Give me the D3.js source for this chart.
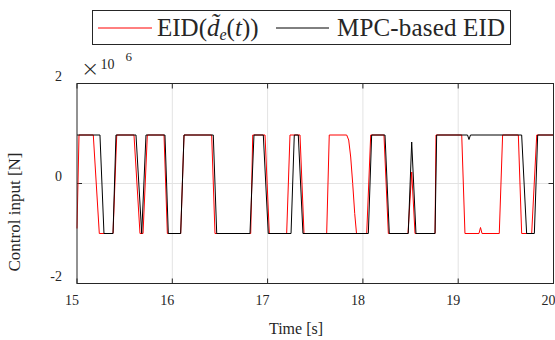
<!DOCTYPE html>
<html>
<head>
<meta charset="utf-8">
<script src="https://cdn.jsdelivr.net/npm/d3@7"></script>
<style>
  body { margin: 0; background: #fff; }
</style>
</head>
<body>
<script>
// time [s] and control input [x 10^6 N]
const eidTime = [15.000, 15.021, 15.171, 15.234, 15.378, 15.417, 15.598, 15.661, 15.693, 15.738,
                 15.913, 15.948, 16.088, 16.123, 16.413, 16.448, 16.823, 16.844, 16.973, 17.018,
                 17.200, 17.235, 17.340, 17.382, 17.620, 17.647, 17.830, 17.851, 17.872, 17.893,
                 17.914, 17.933, 18.040, 18.082, 18.221, 18.267, 18.473, 18.512, 18.547, 18.757,
                 18.767, 19.037, 19.071, 19.218, 19.234, 19.250, 19.431, 19.466, 19.631, 19.666,
                 19.771, 19.824, 20.000];
const eidInput = [-0.90, 0.97, 0.97, -1.00, -1.00, 0.97, 0.97, -1.00, -1.00, 0.97,
                  0.97, -1.00, -1.00, 0.97, 0.97, -1.00, -1.00, 0.97, 0.97, -1.00,
                  -1.00, 0.97, 0.97, -1.00, -1.00, 0.97, 0.97, 0.87, 0.53, 0.00,
                  -0.60, -1.00, -1.00, 0.97, 0.97, -1.00, -1.00, 0.23, -1.00, -1.00,
                  0.97, 0.97, -1.00, -1.00, -0.88, -1.00, -1.00, 0.97, 0.97, -1.00,
                  -1.00, 0.97, 0.97];

const mpcTime = [15.000, 15.241, 15.283, 15.378, 15.409, 15.619, 15.679, 15.724, 15.923, 15.958,
                 16.088, 16.123, 16.430, 16.466, 16.815, 16.857, 16.955, 17.007, 17.246, 17.280,
                 17.322, 17.371, 18.057, 18.092, 18.232, 18.277, 18.476, 18.512, 18.557, 18.757,
                 18.774, 19.098, 19.113, 19.129, 19.666, 19.718, 19.799, 19.834, 20.000];
const mpcInput = [0.97, 0.97, -1.00, -1.00, 0.97, 0.97, -1.00, 0.97, 0.97, -1.00,
                  -1.00, 0.97, 0.97, -1.00, -1.00, 0.97, 0.97, -1.00, -1.00, 0.97,
                  0.97, -1.00, -1.00, 0.97, 0.97, -1.00, -1.00, 0.83, -1.00, -1.00,
                  0.97, 0.97, 0.88, 0.97, 0.97, -1.00, -1.00, 0.97, 0.97];

const xTicks = [15, 16, 17, 18, 19, 20];
const yTicks = [-2, 0, 2];

const width = 555,
      height = 340;
const margin = {left: 77, right: 1.5, top: 83.5, bottom: 56.5};
const serif = "'Liberation Serif', 'DejaVu Serif', serif";

const svg = d3.select("body")
              .append("svg")
              .attr("width", width)
              .attr("height", height)
              .attr("font-family", serif);

svg.append("rect").attr("width", width).attr("height", height).attr("fill", "#fff");

const x = d3.scaleLinear().domain([15, 20]).range([margin.left, width - margin.right]);
const y = d3.scaleLinear().domain([-2, 2]).range([height - margin.bottom, margin.top]);

// grid
svg.append("g")
   .selectAll("line")
   .data(xTicks.slice(1, -1))
   .enter().append("line")
   .attr("x1", d => x(d)).attr("x2", d => x(d))
   .attr("y1", y(-2)).attr("y2", y(2))
   .attr("stroke", "#e3e3e3");
svg.append("line")
   .attr("x1", x(15)).attr("x2", x(20))
   .attr("y1", y(0)).attr("y2", y(0))
   .attr("stroke", "#e3e3e3");

// ticks pointing inward, like matlab
const tickLen = 5;
xTicks.forEach(function(t) {
    svg.append("line").attr("x1", x(t)).attr("x2", x(t))
       .attr("y1", y(-2)).attr("y2", y(-2) - tickLen).attr("stroke", "#262626");
    svg.append("line").attr("x1", x(t)).attr("x2", x(t))
       .attr("y1", y(2)).attr("y2", y(2) + tickLen).attr("stroke", "#262626");
});
yTicks.forEach(function(v) {
    svg.append("line").attr("x1", x(15)).attr("x2", x(15) + tickLen)
       .attr("y1", y(v)).attr("y2", y(v)).attr("stroke", "#262626");
    svg.append("line").attr("x1", x(20)).attr("x2", x(20) - tickLen)
       .attr("y1", y(v)).attr("y2", y(v)).attr("stroke", "#262626");
});

// lines
const line = d3.line()
               .x(d => x(d[0]))
               .y(d => y(d[1]));

svg.append("path")
   .datum(d3.zip(eidTime, eidInput))
   .attr("fill", "none")
   .attr("stroke", "#ff0000")
   .attr("stroke-width", 1)
   .attr("d", line);

svg.append("path")
   .datum(d3.zip(mpcTime, mpcInput))
   .attr("fill", "none")
   .attr("stroke", "#000")
   .attr("stroke-width", 1)
   .attr("d", line);

// box
svg.append("rect")
   .attr("x", x(15)).attr("y", y(2))
   .attr("width", x(20) - x(15)).attr("height", y(-2) - y(2))
   .attr("fill", "none")
   .attr("stroke", "#262626");

// tick labels
svg.append("g")
   .attr("fill", "#262626")
   .selectAll("text")
   .data(xTicks)
   .enter().append("text")
   .attr("x", d => x(d) - 5)
   .attr("y", y(-2) + 21)
   .attr("text-anchor", "middle")
   .attr("font-size", 14)
   .text(d => d);

svg.append("g")
   .attr("fill", "#262626")
   .selectAll("text")
   .data(yTicks)
   .enter().append("text")
   .attr("x", x(15) - 15)
   .attr("y", d => y(d) - 3)
   .attr("text-anchor", "end")
   .attr("font-size", 14)
   .text(d => d);

// exponent
const expo = svg.append("text").attr("x", 81).attr("y", 76).attr("font-size", 14).attr("fill", "#262626");
expo.append("tspan").attr("font-size", 22).attr("font-family", "'DejaVu Sans', sans-serif")
    .attr("font-weight", 200).text("\u00d7");
expo.append("tspan").attr("dx", 1).attr("dy", -7).text("10");
expo.append("tspan").attr("dx", 11).attr("dy", -8).attr("font-size", 13).text("6");

// axis labels
svg.append("text")
   .attr("x", 296)
   .attr("y", 334)
   .attr("text-anchor", "middle")
   .attr("font-size", 16)
   .attr("fill", "#262626")
   .text("Time [s]");

svg.append("text")
   .attr("transform", "translate(20," + 212 + ")rotate(-90)")
   .attr("text-anchor", "middle")
   .attr("font-size", 17)
   .attr("fill", "#262626")
   .text("Control input [N]");

// legend
const legend = svg.append("g");
legend.append("rect")
      .attr("x", 92.5).attr("y", 10.5)
      .attr("width", 418).attr("height", 34)
      .attr("fill", "#fff")
      .attr("stroke", "#262626");
legend.append("line").attr("x1", 98).attr("x2", 152).attr("y1", 28).attr("y2", 28)
      .attr("stroke", "#ff0000");
legend.append("line").attr("x1", 276).attr("x2", 329).attr("y1", 28).attr("y2", 28)
      .attr("stroke", "#000");

const lab1 = legend.append("text").attr("x", 157).attr("y", 36).attr("font-size", 25).attr("fill", "#262626");
lab1.append("tspan").text("EID(");
lab1.append("tspan").attr("font-style", "italic").text("d\u0303");
lab1.append("tspan").attr("font-style", "italic").attr("font-size", 16).attr("dy", 4).text("e");
lab1.append("tspan").attr("dy", -4).text("(");
lab1.append("tspan").attr("font-style", "italic").text("t");
lab1.append("tspan").text("))");

legend.append("text").attr("x", 337).attr("y", 36).attr("font-size", 25).attr("fill", "#262626")
      .attr("textLength", 168)
      .text("MPC-based EID");
</script>
</body>
</html>
